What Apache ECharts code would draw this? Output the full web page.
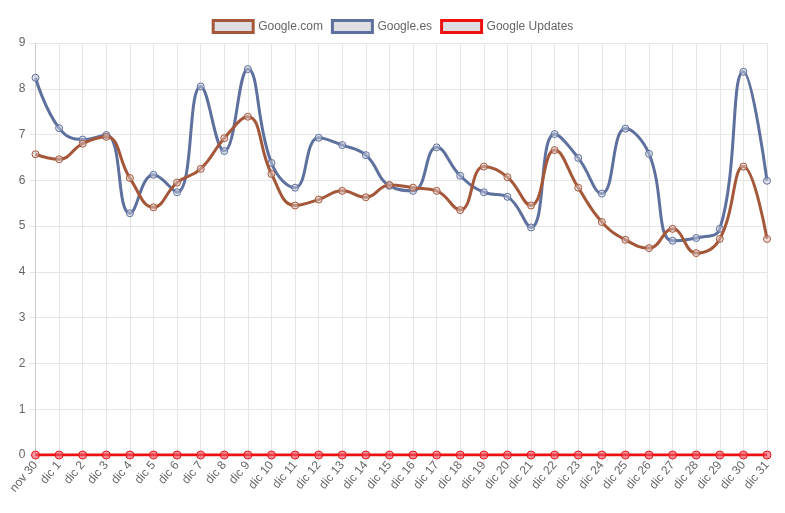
<!DOCTYPE html>
<html>
<head>
<meta charset="utf-8">
<script src="https://cdn.jsdelivr.net/npm/echarts@6/dist/echarts.min.js"></script>
<style>
	html, body { margin: 0; padding: 0; background: #fff; }
	#chart { width: 785px; height: 513px; }
</style>
</head>
<body>
<div id="chart"></div>
<script>
var dias = ['nov 30', 'dic 1', 'dic 2', 'dic 3', 'dic 4', 'dic 5', 'dic 6', 'dic 7', 'dic 8', 'dic 9',
	'dic 10', 'dic 11', 'dic 12', 'dic 13', 'dic 14', 'dic 15', 'dic 16', 'dic 17', 'dic 18', 'dic 19',
	'dic 20', 'dic 21', 'dic 22', 'dic 23', 'dic 24', 'dic 25', 'dic 26', 'dic 27', 'dic 28', 'dic 29',
	'dic 30', 'dic 31'];

var google_com = [6.57, 6.46, 6.80, 6.95, 6.05, 5.41, 5.95, 6.25, 6.92, 7.39,
	6.14, 5.45, 5.58, 5.77, 5.63, 5.90, 5.84, 5.77, 5.35, 6.30,
	6.07, 5.45, 6.66, 5.84, 5.09, 4.70, 4.52, 4.94, 4.41, 4.72,
	6.30, 4.72];

var google_es = [8.24, 7.14, 6.89, 6.99, 5.28, 6.12, 5.74, 8.05, 6.64, 8.43,
	6.38, 5.84, 6.93, 6.77, 6.55, 5.88, 5.77, 6.72, 6.10, 5.74,
	5.64, 4.97, 7.01, 6.49, 5.71, 7.13, 6.58, 4.68, 4.74, 4.94,
	8.37, 5.99];

var google_updates = [0, 0, 0, 0, 0, 0, 0, 0, 0, 0,
	0, 0, 0, 0, 0, 0, 0, 0, 0, 0,
	0, 0, 0, 0, 0, 0, 0, 0, 0, 0,
	0, 0];

var y_ticks = [0, 1, 2, 3, 4, 5, 6, 7, 8, 9];

var font_color = '#666666';
var grid_color = '#e5e5e5';
var font_family = '"Liberation Sans", Arial, Helvetica, sans-serif';

var color_com = '#a5573a';
var color_es = '#5e709e';
var color_upd = '#ee1111';

function serie(nombre, datos, color, z, punto, tam) {
	return {
		name: nombre,
		type: 'line',
		data: datos,
		smooth: 0.45,
		z: z,
		symbol: 'circle',
		symbolSize: tam,
		showAllSymbol: true,
		lineStyle: { color: color, width: 3 },
		itemStyle: { color: punto, borderColor: color, borderWidth: 1 },
		emphasis: { disabled: true }
	};
}

var chart = echarts.init(document.getElementById('chart'));
var options = {
	animation: false,
	textStyle: { fontFamily: font_family },
	grid: {
		left: 35.5,
		right: 18,
		top: 43,
		bottom: 58
	},
	legend: {
		top: 14,
		left: 'center',
		icon: 'rect',
		itemWidth: 40,
		itemHeight: 12,
		itemGap: 8,
		textStyle: { color: font_color, fontSize: 12, fontFamily: font_family },
		data: [
			{ name: 'Google.com', itemStyle: { color: '#dfdfe3', borderColor: color_com, borderWidth: 3 } },
			{ name: 'Google.es', itemStyle: { color: '#dfdfe3', borderColor: color_es, borderWidth: 3 } },
			{ name: 'Google Updates', itemStyle: { color: '#dfdfe3', borderColor: color_upd, borderWidth: 3 } }
		]
	},
	xAxis: {
		type: 'category',
		data: dias,
		boundaryGap: false,
		axisLine: { show: true, lineStyle: { color: '#cccccc' } },
		axisTick: { show: true, length: 6, lineStyle: { color: grid_color } },
		axisLabel: {
			rotate: 50,
			interval: 0,
			margin: 8,
			fontSize: 12,
			color: font_color,
			fontFamily: font_family
		},
		splitLine: { show: true, lineStyle: { color: grid_color } }
	},
	yAxis: {
		type: 'value',
		min: y_ticks[0],
		max: y_ticks[y_ticks.length - 1],
		interval: 1,
		axisLine: { show: true, lineStyle: { color: '#cccccc' } },
		axisTick: { show: true, length: 6, lineStyle: { color: grid_color } },
		axisLabel: {
			margin: 10,
			fontSize: 12,
			color: font_color,
			fontFamily: font_family
		},
		splitLine: { show: true, lineStyle: { color: grid_color } }
	},
	series: [
		serie('Google.com', google_com, color_com, 4, 'rgba(220,200,195,0.5)', 7),
		serie('Google.es', google_es, color_es, 3, 'rgba(200,205,220,0.5)', 7),
		serie('Google Updates', google_updates, color_upd, 2, 'rgba(240,90,110,0.6)', 8)
	]
};

chart.setOption(options, true);
</script>
</body>
</html>
